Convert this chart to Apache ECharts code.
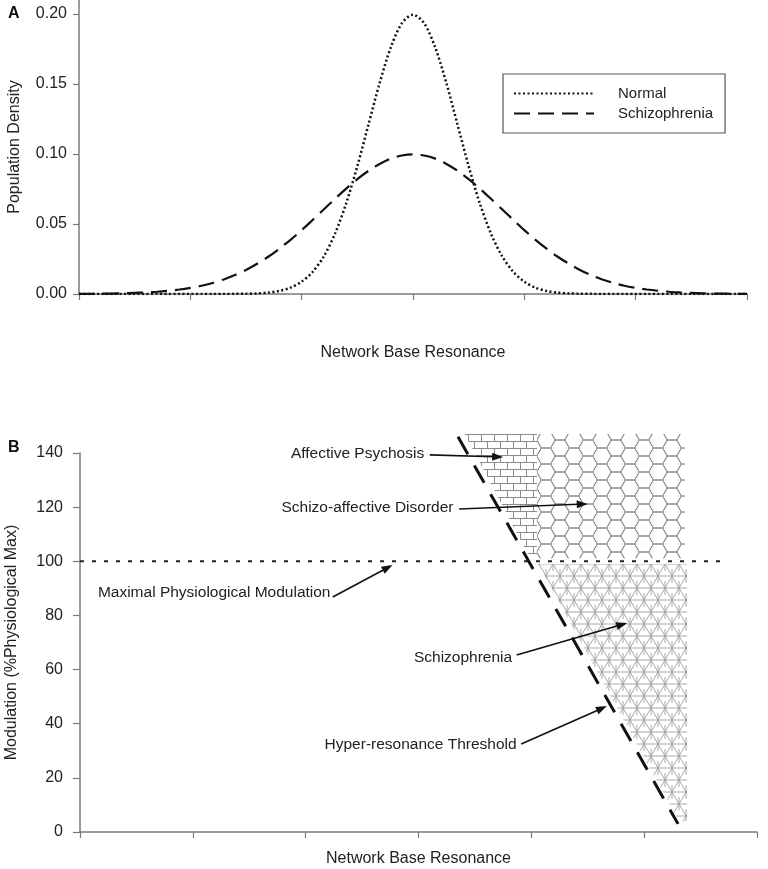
<!DOCTYPE html>
<html><head><meta charset="utf-8">
<script src="https://cdn.jsdelivr.net/npm/echarts@6/dist/echarts.min.js"></script>
<style>html,body{margin:0;padding:0;background:#fff}#chart{width:768px;height:869px}</style>
</head><body><div id="chart"></div>
<script>
// ---------- Panel A data ----------
const resonanceX = [-15,-14.5,-14,-13.5,-13,-12.5,-12,-11.5,-11,-10.5,-10,-9.5,-9,-8.5,-8,-7.5,-7,-6.5,-6,-5.5,-5,-4.5,-4,-3.5,-3,-2.5,-2,-1.5,-1,-0.5,0,0.5,1,1.5,2,2.5,3,3.5,4,4.5,5,5.5,6,6.5,7,7.5,8,8.5,9,9.5,10,10.5,11,11.5,12,12.5,13,13.5,14,14.5,15];
const normalDensity = [0,0,0,0,0,0,0,0,0,0,0,0,0,0,0.0001,0.0002,0.0004,0.0010,0.0022,0.0045,0.0088,0.0159,0.0270,0.0432,0.0648,0.0913,0.1210,0.1506,0.1760,0.1934,0.1995,0.1934,0.1760,0.1506,0.1210,0.0913,0.0648,0.0432,0.0270,0.0159,0.0088,0.0045,0.0022,0.0010,0.0004,0.0002,0.0001,0,0,0,0,0,0,0,0,0,0,0,0,0,0];
const schizoDensity = [0.0001,0.0001,0.0002,0.0003,0.0005,0.0008,0.0011,0.0016,0.0023,0.0032,0.0044,0.0059,0.0079,0.0104,0.0135,0.0172,0.0216,0.0266,0.0324,0.0387,0.0456,0.0530,0.0605,0.0680,0.0753,0.0820,0.0880,0.0929,0.0967,0.0989,0.0997,0.0989,0.0967,0.0929,0.0880,0.0820,0.0753,0.0680,0.0605,0.0530,0.0456,0.0387,0.0324,0.0266,0.0216,0.0172,0.0135,0.0104,0.0079,0.0059,0.0044,0.0032,0.0023,0.0016,0.0011,0.0008,0.0005,0.0003,0.0002,0.0001,0.0001];
const densityTicks = [0, 0.05, 0.10, 0.15, 0.20];

// ---------- Panel B data ----------
const modulationTicks = [0, 20, 40, 60, 80, 100, 120, 140];
const maxModulationLine = [[0, 100], [5.69, 100]];
const thresholdLine = [[3.35, 146], [5.30, 3]];
const regionNames = ['Affective Psychosis', 'Schizo-affective Disorder', 'Schizophrenia'];
const affectiveRegion = [[3.41, 147], [4.05, 147], [4.05, 101], [3.99, 101]];
const schizoAffectiveRegion = [[4.05, 147], [5.36, 147], [5.36, 101], [4.05, 101]];
const schizophreniaRegion = [[4.06, 99], [5.38, 99], [5.38, 4], [5.31, 4]];
const annotationLabels = ['Affective Psychosis', 'Schizo-affective Disorder', 'Maximal Physiological Modulation', 'Schizophrenia', 'Hyper-resonance Threshold'];
const labelAnchors = [[3.05, 139.6], [3.31, 119.7], [2.22, 88.3], [3.83, 64.3], [3.87, 32.1]];
const arrowStarts = [[3.10, 139.3], [3.36, 119.3], [2.24, 86.8], [3.87, 65.4], [3.91, 32.5]];
const arrowEnds = [[3.75, 138.5], [4.50, 121.2], [2.77, 98.6], [4.85, 77.2], [4.67, 46.5]];

const FONT = '"Liberation Sans", Arial, Helvetica, sans-serif';
const AXIS_GRAY = '#7a7a7a';

// ---------- fill patterns ----------
function makeCanvas(w, h, draw) {
  const c = document.createElement('canvas');
  c.width = w; c.height = h;
  const ctx = c.getContext('2d');
  ctx.strokeStyle = '#8c8c8c';
  ctx.lineWidth = 1;
  draw(ctx, w, h);
  return c;
}
const brickCanvas = makeCanvas(26, 14, (ctx) => {
  ctx.beginPath();
  ctx.moveTo(0, 0.5); ctx.lineTo(26, 0.5);
  ctx.moveTo(0, 7.5); ctx.lineTo(26, 7.5);
  ctx.moveTo(0.5, 0); ctx.lineTo(0.5, 7.5);
  ctx.moveTo(13.5, 0); ctx.lineTo(13.5, 7.5);
  ctx.moveTo(6.5, 7.5); ctx.lineTo(6.5, 14);
  ctx.moveTo(19.5, 7.5); ctx.lineTo(19.5, 14);
  ctx.stroke();
});
const hexCanvas = makeCanvas(28, 16, (ctx, w, h) => {
  const s = w / 3;
  const centers = [[0, 0], [3 * s, 0], [0, h], [3 * s, h], [1.5 * s, h / 2], [1.5 * s, -h / 2], [1.5 * s, 1.5 * h]];
  ctx.beginPath();
  centers.forEach(([cx, cy]) => {
    const v = [[s, 0], [s / 2, h / 2], [-s / 2, h / 2], [-s, 0], [-s / 2, -h / 2], [s / 2, -h / 2]];
    ctx.moveTo(cx + v[0][0], cy + v[0][1]);
    for (let k = 1; k <= 6; k++) ctx.lineTo(cx + v[k % 6][0], cy + v[k % 6][1]);
  });
  ctx.stroke();
});
const triCanvas = makeCanvas(14, 24, (ctx) => {
  ctx.lineWidth = 0.9;
  ctx.strokeStyle = '#a0a0a0';
  ctx.beginPath();
  const segs = [[0,0,14,0],[-7,12,21,12],[0,24,14,24],[0,0,7,12],[14,0,7,12],[7,12,0,24],[7,12,14,24],[0,0,-7,12],[14,0,21,12],[-7,12,0,24],[21,12,14,24],
                [7,12,7,5],[0,0,0,7],[14,0,14,7],[0,24,0,17],[14,24,14,17],[7,12,7,19]];
  segs.forEach(([a,b,c,d]) => { ctx.moveTo(a,b); ctx.lineTo(c,d); });
  ctx.stroke();
});
const regionVertices = [affectiveRegion, schizoAffectiveRegion, schizophreniaRegion];
const regionFills = [
  { image: brickCanvas, repeat: 'repeat' },
  { image: hexCanvas, repeat: 'repeat' },
  { image: triCanvas, repeat: 'repeat' }
];

const chart = echarts.init(document.getElementById('chart'), null, { renderer: 'canvas' });

const axisLineStyle = { lineStyle: { color: AXIS_GRAY, width: 1.5 } };
const labelText = { color: '#222', fontSize: 16, fontFamily: FONT };

const option = {
  animation: false,
  backgroundColor: '#fff',
  textStyle: { fontFamily: FONT },
  graphic: [
    { type: 'text', left: 8, top: 6, style: { text: 'A', font: 'bold 16px ' + FONT, fill: '#111' } },
    { type: 'text', left: 8, top: 440, style: { text: 'B', font: 'bold 16px ' + FONT, fill: '#111' } }
  ],
  legend: {
    data: ['Normal', 'Schizophrenia'],
    orient: 'vertical',
    left: 503, top: 74,
    itemWidth: 80, itemHeight: 14, itemGap: 5,
    padding: [12, 12, 12, 10],
    borderColor: '#555', borderWidth: 1.2,
    itemStyle: { opacity: 0 },
    textStyle: { fontSize: 15, color: '#222', fontFamily: FONT, padding: [0, 0, 0, 19] }
  },
  grid: [
    { left: 79, right: 21, top: 0, bottom: 575, containLabel: false, outerBoundsMode: 'none' },
    { left: 80, right: 11, top: 453, bottom: 37, containLabel: false, outerBoundsMode: 'none' }
  ],
  xAxis: [
    {
      gridIndex: 0, type: 'value', min: -15, max: 15, interval: 5,
      name: 'Network Base Resonance', nameLocation: 'middle', nameGap: 51,
      nameTextStyle: labelText,
      axisLine: { onZero: false, ...axisLineStyle },
      axisTick: { show: true, length: 6, lineStyle: { color: AXIS_GRAY, width: 1.2 } },
      axisLabel: { show: false }, splitLine: { show: false }
    },
    {
      gridIndex: 1, type: 'value', min: 0, max: 6, interval: 1,
      name: 'Network Base Resonance', nameLocation: 'middle', nameGap: 19,
      nameTextStyle: labelText,
      axisLine: { onZero: false, ...axisLineStyle },
      axisTick: { show: true, length: 6, lineStyle: { color: AXIS_GRAY, width: 1.2 } },
      axisLabel: { show: false }, splitLine: { show: false }
    }
  ],
  yAxis: [
    {
      gridIndex: 0, type: 'value', min: 0, max: 0.21,
      name: 'Population Density', nameLocation: 'middle', nameGap: 56,
      nameTextStyle: labelText,
      axisLine: { show: true, onZero: false, ...axisLineStyle },
      axisTick: { show: true, length: 6, customValues: densityTicks, lineStyle: { color: AXIS_GRAY, width: 1.2 } },
      axisLabel: { customValues: densityTicks, margin: 12, ...labelText, formatter: v => v.toFixed(2) },
      splitLine: { show: false }
    },
    {
      gridIndex: 1, type: 'value', min: 0, max: 140, interval: 20,
      name: 'Modulation (%Physiological Max)', nameLocation: 'middle', nameGap: 60,
      nameTextStyle: labelText,
      axisLine: { show: true, onZero: false, ...axisLineStyle },
      axisTick: { show: true, length: 7, lineStyle: { color: AXIS_GRAY, width: 1.2 } },
      axisLabel: { margin: 17, ...labelText },
      splitLine: { show: false }
    }
  ],
  series: [
    {
      name: 'Normal', type: 'line', xAxisIndex: 0, yAxisIndex: 0,
      data: resonanceX.map((x, i) => [x, normalDensity[i]]),
      symbol: 'none', smooth: 0.3,
      lineStyle: { color: '#111', width: 2.5, type: [2, 2.5] }
    },
    {
      name: 'Schizophrenia', type: 'line', xAxisIndex: 0, yAxisIndex: 0,
      data: resonanceX.map((x, i) => [x, schizoDensity[i]]),
      symbol: 'none', smooth: 0.3,
      lineStyle: { color: '#111', width: 2.2, type: [16, 8] }
    },
    {
      name: 'regions', type: 'custom', xAxisIndex: 1, yAxisIndex: 1, silent: true,
      data: regionNames.map((n, i) => [i]),
      renderItem: (params, api) => {
        const i = params.dataIndex;
        const pts = regionVertices[i].map(p => api.coord(p));
        return { type: 'polygon', shape: { points: pts }, style: { fill: regionFills[i], stroke: null } };
      },
      clip: false, z: 1
    },
    {
      name: 'maxModulation', type: 'line', xAxisIndex: 1, yAxisIndex: 1, silent: true,
      data: maxModulationLine, symbol: 'none', clip: false,
      lineStyle: { color: '#222', width: 2, type: [4, 8] }, z: 3
    },
    {
      name: 'threshold', type: 'line', xAxisIndex: 1, yAxisIndex: 1, silent: true,
      data: thresholdLine, symbol: 'none', clip: false,
      lineStyle: { color: '#111', width: 3, type: [20, 13] }, z: 3
    },
    {
      name: 'annotations', type: 'custom', xAxisIndex: 1, yAxisIndex: 1, silent: true,
      data: annotationLabels.map((t, i) => [i]),
      clip: false, z: 5,
      renderItem: (params, api) => {
        const i = params.dataIndex;
        const a = api.coord(labelAnchors[i]);
        const s = api.coord(arrowStarts[i]);
        const e = api.coord(arrowEnds[i]);
        const dx = e[0] - s[0], dy = e[1] - s[1];
        const L = Math.hypot(dx, dy), ux = dx / L, uy = dy / L;
        const hl = 11, hw = 4;
        const bx = e[0] - ux * hl, by = e[1] - uy * hl;
        return {
          type: 'group',
          children: [
            { type: 'text', style: { text: annotationLabels[i], x: a[0], y: a[1], align: 'right', verticalAlign: 'middle', font: '15.5px ' + FONT, fill: '#222' } },
            { type: 'line', shape: { x1: s[0], y1: s[1], x2: bx + ux, y2: by + uy }, style: { stroke: '#111', lineWidth: 1.6 } },
            { type: 'polygon', shape: { points: [[e[0], e[1]], [bx - uy * hw, by + ux * hw], [bx + uy * hw, by - ux * hw]] }, style: { fill: '#111' } }
          ]
        };
      }
    }
  ]
};
chart.setOption(option);
</script>
</body></html>
